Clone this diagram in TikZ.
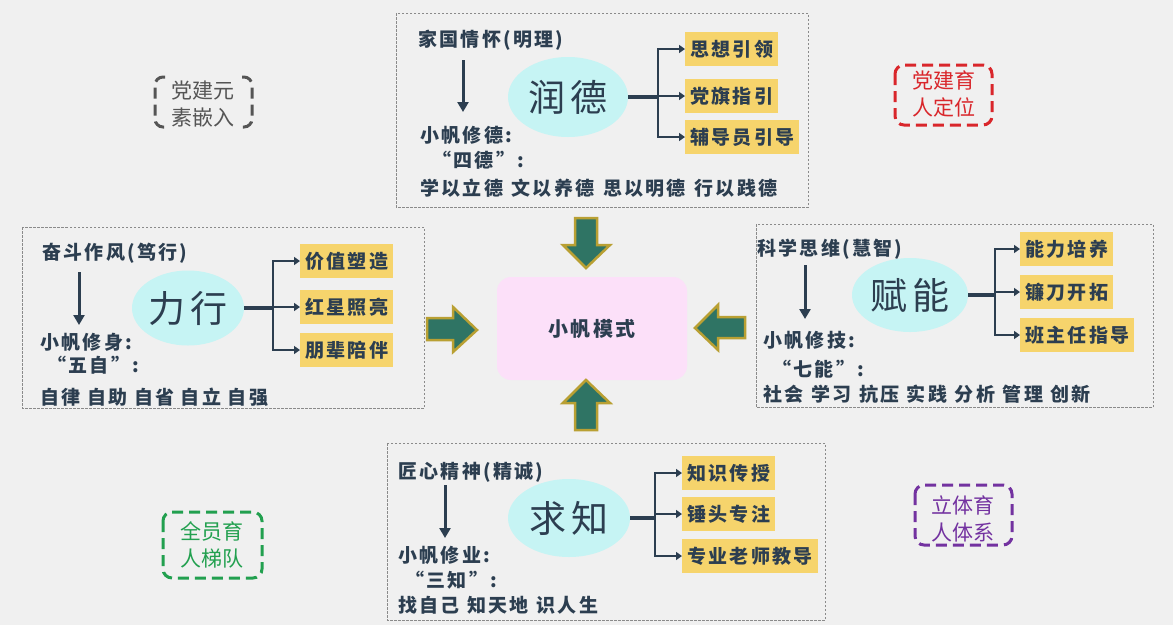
\documentclass[tikz,border=0pt]{standalone}
\usepackage{fontspec}
\newfontfamily\cjk[LetterSpace=12]{Noto Sans CJK SC}
\newfontfamily\cjkp{Noto Sans CJK SC}
\usetikzlibrary{arrows.meta,shapes.geometric}
\definecolor{bg}{HTML}{F0F0F0}
\definecolor{ink}{HTML}{2C3E50}
\definecolor{gold}{HTML}{F6D46C}
\definecolor{cyanel}{HTML}{C6F4F4}
\definecolor{pinkbox}{HTML}{FCE0F9}
\definecolor{arrowfill}{HTML}{2F7464}
\definecolor{arrowedge}{HTML}{B9A033}
\definecolor{panelline}{HTML}{8A8A8A}
\definecolor{redc}{HTML}{D9262B}
\definecolor{greenc}{HTML}{22A04F}
\definecolor{purplec}{HTML}{7332A0}
\definecolor{grayc}{HTML}{555555}
\tikzset{
 txt/.style={anchor=west, inner sep=0pt, text=ink, font=\cjk\bfseries\fontsize{19}{23}\selectfont},
 panel/.style={draw=panelline, line width=0.8pt, dash pattern=on 2.5pt off 1.5pt},
 oval/.style={ellipse, fill=cyanel, text=ink, inner sep=0pt, font=\cjk\fontsize{37}{40}\selectfont},
 tag/.style={fill=gold, anchor=west, text=ink, inner xsep=5pt, inner ysep=0pt, minimum height=34pt, font=\cjk\bfseries\fontsize{19}{23}\selectfont},
 stem/.style={draw=ink, line width=4pt},
 branch/.style={draw=ink, line width=2.5pt, -{Triangle[length=6pt,width=8pt]}},
 down/.style={draw=ink, line width=3pt, -{Triangle[length=10pt,width=11pt]}},
 bigarrow/.style={fill=arrowfill, draw=arrowedge, line width=2.5pt, line join=miter},
 corner/.style={line width=3pt, dash pattern=on 11pt off 6pt},
 ctext/.style={align=center, inner sep=0pt, font=\cjkp\fontsize{21}{27}\selectfont},
}
\begin{document}
\begin{tikzpicture}[x=1pt,y=-1pt]
\fill[bg] (0,0) rectangle (1173,625);
\useasboundingbox (0,0) rectangle (1173,625);

% panels
\draw[panel] (396,13) rectangle (808,207);
\draw[panel] (22,227) rectangle (424,408);
\draw[panel] (756,224) rectangle (1153,407);
\draw[panel] (387,443) rectangle (825,620);

% ---- top panel
\node[txt] (t1a) at (418,40) {家国情怀(明理)};
\coordinate (t1s) at (463,60); \coordinate (t1e) at (463,112);
\draw[down] (t1s) -- (t1e);
\node[txt] (t1b) at (420,135) {小帆修德:};
\node[txt] (t1c) at (432,160) {“四德”:};
\node[txt] (t1d) at (420,188) {学以立德\hspace{2pt} 文以养德\hspace{2pt} 思以明德\hspace{2pt} 行以践德};
\node[oval, minimum width=120pt, minimum height=80pt] (e1) at (568,97) {润德};
\coordinate (j1) at (658,97);
\node[tag] (b1a) at (685,49) {思想引领};
\node[tag] (b1b) at (685,96) {党旗指引};
\node[tag] (b1c) at (685,137) {辅导员引导};
\draw[stem] (e1.east) -- (j1);
\draw[branch] (j1) |- (b1a.west);
\draw[branch] (j1) |- (b1b.west);
\draw[branch] (j1) |- (b1c.west);

% ---- left panel
\node[txt] (t2a) at (42,253) {奋斗作风(笃行)};
\coordinate (t2s) at (79,272); \coordinate (t2e) at (79,325);
\draw[down] (t2s) -- (t2e);
\node[txt] (t2b) at (40,342) {小帆修身:};
\node[txt] (t2c) at (47,365) {“五自”:};
\node[txt] (t2d) at (40,397) {自律 自助 自省 自立 自强};
\node[oval, minimum width=112pt, minimum height=75pt] (e2) at (188,308) {力行};
\coordinate (j2) at (273,308);
\node[tag] (b2a) at (300,261) {价值塑造};
\node[tag] (b2b) at (300,307) {红星照亮};
\node[tag] (b2c) at (300,350) {朋辈陪伴};
\draw[stem] (e2.east) -- (j2);
\draw[branch] (j2) |- (b2a.west);
\draw[branch] (j2) |- (b2b.west);
\draw[branch] (j2) |- (b2c.west);

% ---- right panel
\node[txt] (t3a) at (757,249) {科学思维(慧智)};
\coordinate (t3s) at (805,265); \coordinate (t3e) at (805,319);
\draw[down] (t3s) -- (t3e);
\node[txt] (t3b) at (763,340) {小帆修技:};
\node[txt] (t3c) at (772,369) {“七能”:};
\node[txt] (t3d) at (763,394) {社会\hspace{1pt} 学习\hspace{1pt} 抗压\hspace{1pt} 实践\hspace{1pt} 分析\hspace{1pt} 管理\hspace{1pt} 创新};
\node[oval, minimum width=116pt, minimum height=74pt] (e3) at (910,295) {赋能};
\coordinate (j3) at (995,295);
\node[tag] (b3a) at (1020,249) {能力培养};
\node[tag] (b3b) at (1020,292) {镰刀开拓};
\node[tag] (b3c) at (1020,335) {班主任指导};
\draw[stem] (e3.east) -- (j3);
\draw[branch] (j3) |- (b3a.west);
\draw[branch] (j3) |- (b3b.west);
\draw[branch] (j3) |- (b3c.west);

% ---- bottom panel
\node[txt] (t4a) at (398,472) {匠心精神(精诚)};
\coordinate (t4s) at (445,485); \coordinate (t4e) at (445,538);
\draw[down] (t4s) -- (t4e);
\node[txt] (t4b) at (398,555) {小帆修业:};
\node[txt] (t4c) at (405,580) {“三知”:};
\node[txt] (t4d) at (398,605) {找自己\hspace{1pt} 知天地\hspace{1pt} 识人生};
\node[oval, minimum width=122pt, minimum height=78pt] (e4) at (569,518) {求知};
\coordinate (j4) at (655,518);
\node[tag] (b4a) at (682,473) {知识传授};
\node[tag] (b4b) at (682,514) {锤头专注};
\node[tag] (b4c) at (682,556) {专业老师教导};
\draw[stem] (e4.east) -- (j4);
\draw[branch] (j4) |- (b4a.west);
\draw[branch] (j4) |- (b4b.west);
\draw[branch] (j4) |- (b4c.west);

% ---- centre
\node[fill=pinkbox, rounded corners=14pt, minimum width=190pt, minimum height=103pt, text=ink,
      font=\cjk\bfseries\fontsize{20}{24}\selectfont] (c) at (592,328.5) {小帆模式};

% block arrows
\draw[bigarrow] (575,218) -- (597,218) -- (597,245) -- (610,245) -- (586,268) -- (563,245) -- (575,245) -- cycle;
\draw[bigarrow] (575,430) -- (597,430) -- (597,403) -- (610,403) -- (586,380) -- (563,403) -- (575,403) -- cycle;
\draw[bigarrow] (427,318) -- (453,318) -- (453,307) -- (477,330) -- (453,352) -- (453,340) -- (427,340) -- cycle;
\draw[bigarrow] (745,317) -- (718,317) -- (718,305) -- (695,328) -- (718,350) -- (718,338) -- (745,338) -- cycle;

% ---- corner labels
\node[ctext, text=grayc] (g1) at (203,104) {党建元\\素嵌入};
\draw[corner, draw=grayc, rounded corners=8pt] (165,77) -- (155,77) -- (155,127) -- (165,127);
\draw[corner, draw=grayc, rounded corners=8pt] (242,77) -- (252,77) -- (252,127) -- (242,127);

\node[ctext, text=redc] (g2) at (944,94) {党建育\\人定位};
\draw[corner, draw=redc, rounded corners=9pt] (895,65) rectangle (992,125);

\node[ctext, text=greenc] (g3) at (212,545) {全员育\\人梯队};
\draw[corner, draw=greenc, rounded corners=9pt] (163,512) rectangle (262,578);

\node[ctext, text=purplec] (g4) at (963,519) {立体育\\人体系};
\draw[corner, draw=purplec, rounded corners=9pt] (915,485) rectangle (1012,545);
\end{tikzpicture}
\end{document}
